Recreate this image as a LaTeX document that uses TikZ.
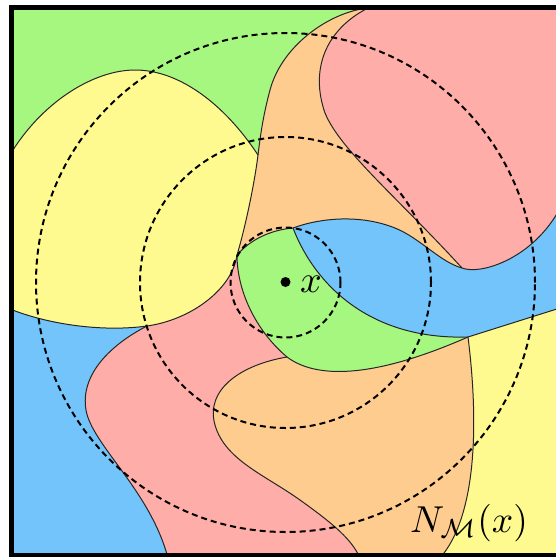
\documentclass[tikz,border=0pt]{standalone}
\definecolor{cgreen}{RGB}{166,247,127}
\definecolor{cyellow}{RGB}{255,250,143}
\definecolor{corange}{RGB}{255,204,143}
\definecolor{cpink}{RGB}{255,173,168}
\definecolor{cblue}{RGB}{115,196,250}
\tikzset{
  border/.style={line width=1pt, draw=black!85},
  ring/.style={line width=2pt, dash pattern=on 6pt off 4pt},
  frameline/.style={line width=5pt},
  lbl/.style={inner sep=0pt, anchor=base}
}
\begin{document}
\begin{tikzpicture}[x=1pt,y=-1pt]
\useasboundingbox (0,0) rectangle (555,557);
\begin{scope}
\clip (11.5,7.5) rectangle (565,555.5);
% background (upper and lower orange)
\fill[corange] (0,0) rectangle (560,560);
% green top-left
\fill[cgreen] (0,0) -- (368,0) -- (368,8) .. controls (330,12) and (282,45) .. (270,90)
  .. controls (264,112.5) and (261,130) .. (258,155)
  .. controls (225,105) and (180,70) .. (135,70)
  .. controls (95,70) and (45,100) .. (13,150) -- (0,150) -- cycle;
% yellow left
\fill[cyellow] (0,150) -- (13,150) .. controls (45,100) and (95,70) .. (135,70)
  .. controls (180,70) and (225,105) .. (258,155)
  .. controls (255,180) and (246,225) .. (237,255)
  .. controls (232,290) and (190,320) .. (147,326)
  .. controls (104,332) and (50,325) .. (10,309) -- (0,309) -- cycle;
% blue left
\fill[cblue] (0,309) -- (10,309) .. controls (50,325) and (104,332) .. (147,326)
  .. controls (110,345) and (80,375) .. (86,410)
  .. controls (92,445) and (150,490) .. (168,558) -- (168,560) -- (0,560) -- cycle;
% pink lower-left
\fill[cpink] (237,255) .. controls (232,290) and (190,320) .. (147,326)
  .. controls (110,345) and (80,375) .. (86,410)
  .. controls (92,445) and (150,490) .. (168,558) -- (168,560) -- (360,560) -- (360,558)
  .. controls (352,540) and (335,525) .. (300,500)
  .. controls (265,475) and (225,460) .. (215,425)
  .. controls (205,390) and (240,365) .. (287,357)
  .. controls (255,330) and (237,290) .. (237,255) -- cycle;
% yellow bottom-right
\fill[cyellow] (468,337) -- (560,308) -- (560,560) -- (440,560) -- (440,558)
  .. controls (482,510) and (476,400) .. (468,337) -- cycle;
% blue right
\fill[cblue] (293,228) .. controls (320,218) and (360,214) .. (395,228)
  .. controls (420,238) and (440,262) .. (462,268)
  .. controls (480,275) and (530,260) .. (558,212) -- (560,212) -- (560,308) -- (468,337)
  .. controls (370,340) and (315,285) .. (293,228) -- cycle;
% pink top-right
\fill[cpink] (368,0) -- (368,8) .. controls (325,30) and (310,70) .. (325,113)
  .. controls (340,150) and (400,200) .. (462,268)
  .. controls (480,275) and (530,260) .. (558,212) -- (560,212) -- (560,0) -- cycle;
% green centre
\fill[cgreen] (237,255) .. controls (250,240) and (270,230) .. (293,228)
  .. controls (315,285) and (370,340) .. (468,337)
  .. controls (370,380) and (315,378) .. (287,357)
  .. controls (255,330) and (237,290) .. (237,255) -- cycle;
% boundaries
\draw[border] (13,150) .. controls (45,100) and (95,70) .. (135,70)
  .. controls (180,70) and (225,105) .. (258,155);
\draw[border] (368,8) .. controls (330,12) and (282,45) .. (270,90)
  .. controls (264,112.5) and (261,130) .. (258,155)
  .. controls (255,180) and (246,225) .. (237,255);
\draw[border] (237,255) .. controls (232,290) and (190,320) .. (147,326)
  .. controls (104,332) and (50,325) .. (10,309);
\draw[border] (147,326) .. controls (110,345) and (80,375) .. (86,410)
  .. controls (92,445) and (150,490) .. (168,558);
\draw[border] (287,357) .. controls (240,365) and (205,390) .. (215,425)
  .. controls (225,460) and (265,475) .. (300,500)
  .. controls (335,525) and (352,540) .. (360,558);
\draw[border] (237,255) .. controls (237,290) and (255,330) .. (287,357);
\draw[border] (287,357) .. controls (315,378) and (370,380) .. (468,337);
\draw[border] (468,337) .. controls (476,400) and (482,510) .. (440,558);
\draw[border] (468,337) -- (560,308);
\draw[border] (293,228) .. controls (315,285) and (370,340) .. (468,337);
\draw[border] (237,255) .. controls (250,240) and (270,230) .. (293,228);
\draw[border] (293,228) .. controls (320,218) and (360,214) .. (395,228)
  .. controls (420,238) and (440,262) .. (462,268);
\draw[border] (368,8) .. controls (325,30) and (310,70) .. (325,113)
  .. controls (340,150) and (400,200) .. (462,268);
\draw[border] (462,268) .. controls (480,275) and (530,260) .. (558,212);
% neighbourhood circles
\coordinate (c) at (285.5,282.5);
\draw[ring] (c) circle[radius=249.5pt];
\draw[ring] (c) circle[radius=145.5pt];
\draw[ring] (c) circle[radius=55pt];
% point and labels
\fill (285.5,282) circle[radius=5pt];
\node[lbl, scale=3.8] (xl) at (311,292) {$x$};
\node[lbl, scale=3.75] (nl) at (469,532) {$N_{\mathcal{M}}(x)$};
\end{scope}
\draw[frameline] (11.5,7.5) rectangle (565,555.5);
\end{tikzpicture}
\end{document}
